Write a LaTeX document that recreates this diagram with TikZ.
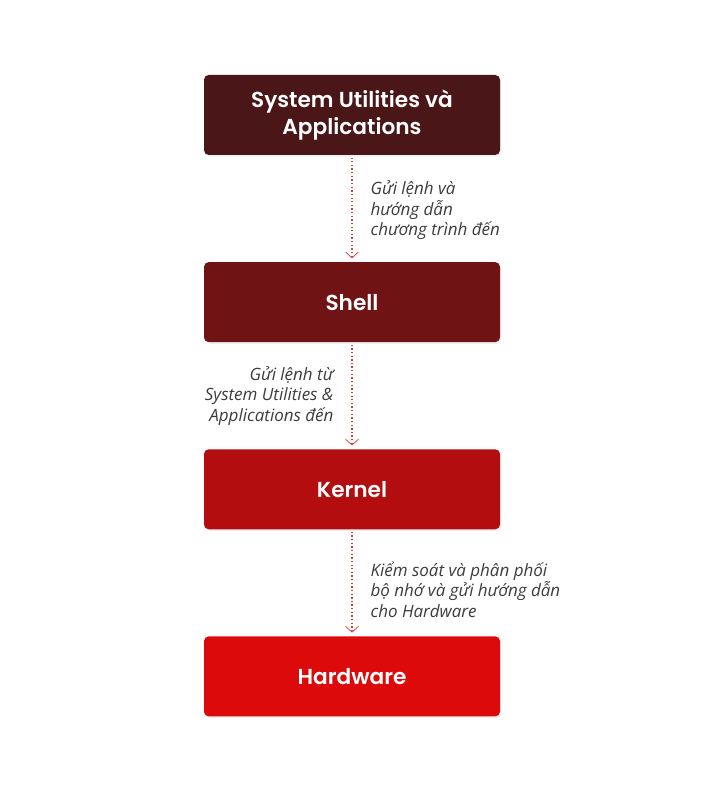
\documentclass[tikz,border=0pt]{standalone}
\usepackage{fontspec}
\setmainfont{Poppins}[BoldFont={Poppins SemiBold}]
\newfontfamily\notefont{Open Sans}
\usetikzlibrary{positioning,arrows.meta,shadows}

\definecolor{sysred}{HTML}{4A1617}
\definecolor{shellred}{HTML}{701314}
\definecolor{kernred}{HTML}{B40D0F}
\definecolor{hwred}{HTML}{DC0A0A}
\definecolor{linkred}{HTML}{E0383A}
\definecolor{notegray}{HTML}{3C3C3C}

\tikzset{
  layer/.style={rectangle,rounded corners=4pt,minimum width=8.88cm,minimum height=2.4cm,
    text=white,font=\fontsize{18.5}{23.5}\selectfont\bfseries,align=center,
    drop shadow={opacity=0.12,shadow xshift=0.04cm,shadow yshift=-0.05cm}},
  flow/.style={linkred,dotted,line width=1.1pt,-{Straight Barb[length=5pt,width=11pt,line width=0.6pt]},
    shorten <=2pt,shorten >=3pt},
  note/.style={text=notegray,font=\notefont\itshape\fontsize{14.5}{17.5}\selectfont,inner sep=0pt}
}

\begin{document}
\begin{tikzpicture}[node distance=3.2cm]
\useasboundingbox (0,0) rectangle (21.51,24);
                \node[layer,fill=sysred] (sys) at (10.56,20.55) {System Utilities và\\Applications};
                \node[layer,fill=shellred] (shell) [below=of sys] {Shell};
                \node[layer,fill=kernred] (kern) [below=of shell] {Kernel};
                \node[layer,fill=hwred] (hw) [below=of kern] {Hardware};
                \path (sys.south) -- (shell.north) node[midway,right=0.55cm,note,align=left,yshift=-0.05cm] {Gửi lệnh và\\hướng dẫn\\chương trình đến};
                \path (shell.south) -- (kern.north) node[midway,left=0.55cm,note,align=right] {Gửi lệnh từ\\System Utilities \&\\Applications đến};
                \path (kern.south) -- (hw.north) node[midway,right=0.55cm,note,align=left,yshift=-0.2cm] {Kiểm soát và phân phối\\bộ nhớ và gửi hướng dẫn\\cho Hardware};
                \draw[flow] (sys.south) -- (shell.north);
                \draw[flow] (shell.south) -- (kern.north);
                \draw[flow] (kern.south) -- (hw.north);
            \end{tikzpicture}
\end{document}
